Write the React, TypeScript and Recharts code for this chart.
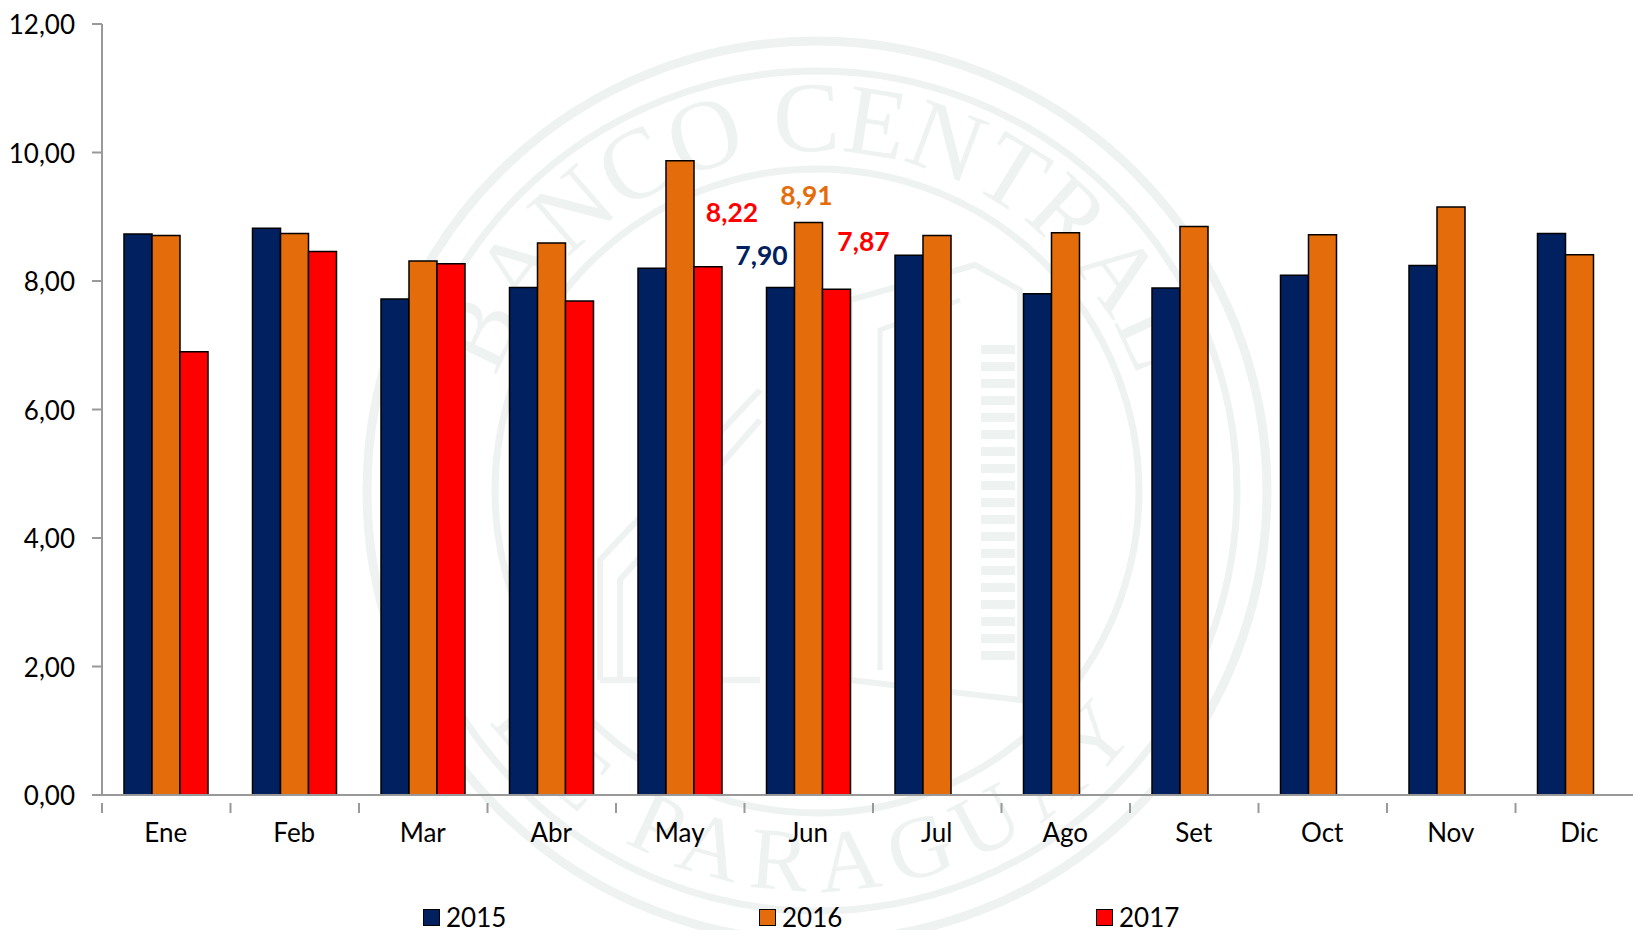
import React from 'react';
import { BarChart, Bar, XAxis, YAxis, Legend, LabelList } from 'recharts';

const months = ['Ene', 'Feb', 'Mar', 'Abr', 'May', 'Jun', 'Jul', 'Ago', 'Set', 'Oct', 'Nov', 'Dic'];
const values2015 = [8.73, 8.82, 7.72, 7.9, 8.2, 7.9, 8.4, 7.8, 7.89, 8.09, 8.24, 8.74];
const values2016 = [8.71, 8.74, 8.31, 8.59, 9.87, 8.91, 8.71, 8.75, 8.85, 8.72, 9.15, 8.41];
const values2017 = [6.9, 8.46, 8.27, 7.69, 8.22, 7.87, null, null, null, null, null, null];
const yTicks = [0, 2, 4, 6, 8, 10, 12];

const chartData = months.map((name, i) => ({
  name,
  y2015: values2015[i],
  y2016: values2016[i],
  y2017: values2017[i],
}));

const FONT = 'Lato, sans-serif';
const NAVY = '#002060';
const ORANGE = '#E46C0A';
const RED = '#FF0000';
const AXIS = '#999';
const BAND = 128.5;
const SEAL = '#eef2f0';

const fmt = (v: number) => v.toFixed(2).replace('.', ',');

// only the last months are labelled, each one nudged by hand
const makeLabel = (fill: string, offsets: Record<number, [number, number]>) => (props: any) => {
  const off = offsets[props.index];
  if (!off || props.value == null) return null;
  return (
    <text
      x={props.x + props.width / 2 + off[0]}
      y={props.y + off[1]}
      fill={fill}
      fontFamily={FONT}
      fontWeight={700}
      fontSize={26.5}
      textAnchor="middle"
      dominantBaseline="central"
    >
      {fmt(props.value)}
    </text>
  );
};

const MonthTick = ({ x, y, payload }: any) => (
  <g>
    <line x1={x - BAND / 2} x2={x - BAND / 2} y1={y} y2={y + 10} stroke={AXIS} strokeWidth={2} />
    <text x={x - 0.5} y={y + 29} textAnchor="middle" dominantBaseline="central" fontFamily={FONT} fontSize={26} fill="#000">
      {payload.value}
    </text>
  </g>
);

const YTick = ({ x, y, payload }: any) => (
  <g>
    <line x1={x + 17} x2={x + 27} y1={y} y2={y} stroke={AXIS} strokeWidth={2} />
    <text x={x} y={y} textAnchor="end" dominantBaseline="central" fontFamily={FONT} fontSize={26} fill="#000">
      {fmt(payload.value)}
    </text>
  </g>
);

const legendLeft = [423, 759, 1096];

const LegendBoxes = ({ payload }: any) => (
  <div style={{ position: 'relative', height: 45, width: 1680 }}>
    {(payload || []).map((p: any, i: number) => (
      <div key={p.value} style={{ position: 'absolute', left: legendLeft[i], top: 19, display: 'flex', alignItems: 'center', fontFamily: FONT, fontSize: 26, color: '#000', lineHeight: '26px' }}>
        <span style={{ width: 15, height: 15, background: p.color, border: '1px solid #000', marginRight: 6, display: 'inline-block' }} />
        {p.value}
      </div>
    ))}
  </div>
);

const Seal = () => (
  <svg width={1633} height={930} style={{ position: 'absolute', left: 0, top: 0 }}>
    <defs>
      <path id="sealTop" d="M 477 491 A 340 340 0 0 1 1157 491" />
      <path id="sealBottom" d="M 417 491 A 400 400 0 0 0 1217 491" />
    </defs>
    <g fill="none" stroke={SEAL}>
      <circle cx={817} cy={491} r={450} strokeWidth={9} />
      <circle cx={817} cy={491} r={420} strokeWidth={7} />
      <circle cx={817} cy={491} r={322} strokeWidth={7} />
      <path d="M 600 680 V 560 L 760 390 M 620 680 V 580 L 760 420 M 600 680 H 760" strokeWidth={6} />
      <path d="M 850 680 V 300 L 975 265 L 1020 290 V 700 L 850 680" strokeWidth={6} />
      <path d="M 880 670 V 330 L 960 300" strokeWidth={5} />
      <path d="M 998 345 V 664" strokeWidth={34} strokeDasharray="9 8" />
    </g>
    <g fill={SEAL} fontFamily="Liberation Serif, serif">
      <text textAnchor="middle" fontSize={100}>
        <textPath href="#sealTop" startOffset="50%">BANCO CENTRAL</textPath>
      </text>
      <text textAnchor="middle" fontSize={88} letterSpacing={14}>
        <textPath href="#sealBottom" startOffset="50%">DE PARAGUAY</textPath>
      </text>
    </g>
  </svg>
);

export default function App() {
  return (
    <div style={{ position: 'absolute', left: 0, top: 0, width: 1633, height: 930, overflow: 'hidden', background: '#fff' }}>
      <Seal />
      <div style={{ position: 'absolute', left: 0, top: 0 }}>
        <BarChart
          width={1680}
          height={930}
          data={chartData}
          margin={{ top: 24, right: 36, left: 0, bottom: 0 }}
          barGap={0}
          barCategoryGap={22}
        >
          <XAxis
            dataKey="name"
            height={90}
            interval={0}
            stroke={AXIS}
            strokeWidth={2}
            tickLine={false}
            tick={<MonthTick />}
          />
          <YAxis
            width={102}
            domain={[0, 12]}
            ticks={yTicks}
            interval={0}
            stroke={AXIS}
            strokeWidth={2}
            tickLine={false}
            tickSize={10}
            tickMargin={17}
            tick={<YTick />}
          />
          <Legend verticalAlign="bottom" align="left" height={45} content={<LegendBoxes />} wrapperStyle={{ left: 0, bottom: 0, width: 1680 }} />
          <Bar dataKey="y2015" name="2015" fill={NAVY} stroke="#000" strokeWidth={1.5} isAnimationActive={false}>
            <LabelList dataKey="y2015" content={makeLabel(NAVY, { 5: [-19, -32] })} />
          </Bar>
          <Bar dataKey="y2016" name="2016" fill={ORANGE} stroke="#000" strokeWidth={1.5} isAnimationActive={false}>
            <LabelList dataKey="y2016" content={makeLabel(ORANGE, { 5: [-2, -28] })} />
          </Bar>
          <Bar dataKey="y2017" name="2017" fill={RED} stroke="#000" strokeWidth={1.5} isAnimationActive={false}>
            <LabelList dataKey="y2017" content={makeLabel(RED, { 4: [24, -55], 5: [27, -48] })} />
          </Bar>
        </BarChart>
      </div>
    </div>
  );
}
